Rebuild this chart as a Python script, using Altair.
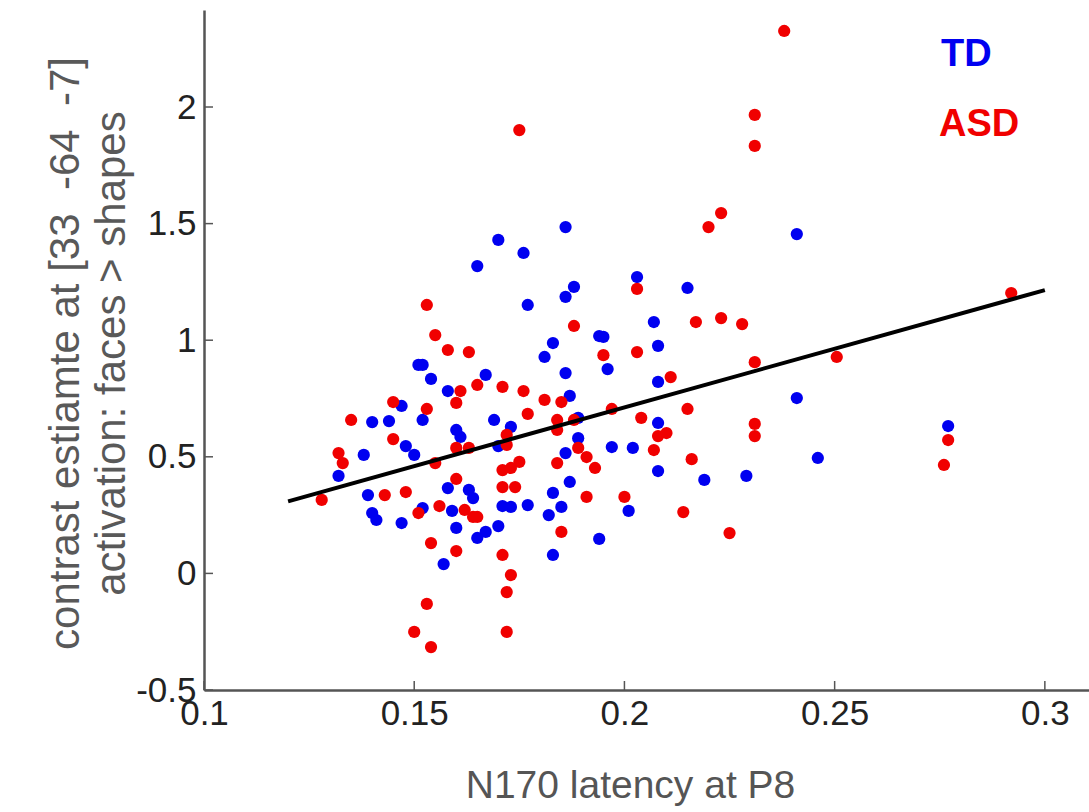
import altair as alt
import pandas as pd

# ---- data ----
td_x = [0.132, 0.138, 0.139, 0.140, 0.141, 0.140, 0.144, 0.147, 0.147, 0.148,
        0.150, 0.151, 0.152, 0.154, 0.158, 0.152, 0.152, 0.157, 0.158, 0.159,
        0.160, 0.161, 0.163, 0.164, 0.160, 0.165, 0.167, 0.167, 0.169, 0.170,
        0.170, 0.171, 0.173, 0.173, 0.165, 0.170, 0.176, 0.177, 0.186, 0.186,
        0.188, 0.194, 0.183, 0.181, 0.186, 0.187, 0.189, 0.189, 0.186, 0.187,
        0.183, 0.177, 0.185, 0.182, 0.183, 0.194, 0.196, 0.195, 0.197, 0.202,
        0.201, 0.203, 0.207, 0.208, 0.208, 0.208, 0.208, 0.215, 0.219, 0.229,
        0.241, 0.241, 0.246, 0.277]
td_y = [0.418, 0.508, 0.336, 0.259, 0.229, 0.649, 0.653, 0.718, 0.216, 0.546,
        0.508, 0.894, 0.894, 0.834, 0.782, 0.658, 0.280, 0.040, 0.366, 0.268,
        0.615, 0.585, 0.358, 0.323, 0.195, 0.152, 0.178, 0.851, 0.658, 0.203,
        0.546, 0.289, 0.285, 0.628, 1.318, 1.430, 1.374, 1.151, 1.485, 1.186,
        1.229, 1.018, 0.988, 0.928, 0.859, 0.761, 0.667, 0.580, 0.516, 0.392,
        0.345, 0.293, 0.285, 0.250, 0.079, 0.148, 0.876, 1.014, 0.542, 0.538,
        0.268, 1.271, 1.078, 0.976, 0.821, 0.645, 0.439, 1.224, 0.401, 0.418,
        1.455, 0.752, 0.495, 0.632]

asd_x = [0.128, 0.132, 0.133, 0.135, 0.143, 0.148, 0.145, 0.145, 0.151, 0.153,
         0.155, 0.158, 0.163, 0.153, 0.155, 0.156, 0.160, 0.160, 0.163, 0.161,
         0.165, 0.160, 0.162, 0.164, 0.165, 0.154, 0.160, 0.153, 0.150, 0.154,
         0.171, 0.172, 0.172, 0.171, 0.173, 0.171, 0.174, 0.171, 0.173, 0.172,
         0.172, 0.175, 0.176, 0.177, 0.181, 0.185, 0.184, 0.184, 0.188, 0.175,
         0.189, 0.191, 0.193, 0.184, 0.191, 0.185, 0.188, 0.195, 0.197, 0.203,
         0.203, 0.204, 0.200, 0.211, 0.208, 0.210, 0.207, 0.214, 0.215, 0.216,
         0.217, 0.220, 0.223, 0.223, 0.228, 0.225, 0.231, 0.231, 0.231, 0.231,
         0.231, 0.238, 0.2505, 0.292, 0.277, 0.276]
asd_y = [0.315, 0.516, 0.473, 0.658, 0.336, 0.349, 0.735, 0.576, 0.259, 1.151,
         1.022, 0.958, 0.949, 0.705, 0.473, 0.289, 0.405, 0.538, 0.538, 0.782,
         0.808, 0.731, 0.272, 0.242, 0.242, 0.130, 0.096, -0.131, -0.251, -0.316,
         0.800, 0.594, 0.551, 0.443, 0.452, 0.370, 0.370, 0.079, -0.007, -0.080,
         -0.251, 1.901, 0.782, 0.684, 0.744, 0.735, 0.658, 0.615, 0.658, 0.478,
         0.538, 0.499, 0.452, 0.473, 0.328, 0.178, 1.061, 0.936, 0.705, 1.220,
         0.949, 0.667, 0.328, 0.842, 0.589, 0.602, 0.529, 0.263, 0.705, 0.490,
         1.078, 1.485, 1.545, 1.095, 1.069, 0.173, 0.906, 0.641, 0.589, 1.966,
         1.833, 2.326, 0.928, 1.202, 0.572, 0.465]

fit_x = [0.12, 0.30]
fit_y = [0.309, 1.215]

x_ticks = [0.1, 0.15, 0.2, 0.25, 0.3]
y_ticks = [-0.5, 0, 0.5, 1, 1.5, 2]

groups = ["TD", "ASD"]
group_colors = ["#0000f0", "#f00000"]

x_title = "N170 latency at P8"
y_title = ["contrast estiamte at [33\u00a0\u00a0-64\u00a0\u00a0-7]", "activation: faces > shapes"]

# ---- styling ----
W, H = 885, 680
AX = "#555555"
FONT = "Liberation Sans"

xscale = alt.Scale(domain=[0.1, 0.3105], nice=False, zero=False)
yscale = alt.Scale(domain=[-0.5, 2.416], nice=False, zero=False)

LABEL_EXPR = "replace(format(datum.value, '~g'), '\u2212', '-')"

xaxis = alt.Axis(values=x_ticks, labelExpr=LABEL_EXPR, grid=False, ticks=False,
                 domainColor=AX, domainWidth=2.5, labelFont=FONT,
                 labelFontSize=35, labelColor="#222222", labelPadding=6,
                 labelFlush=False, labelOverlap=False,
                 title=x_title, titleFont=FONT, titleFontSize=39,
                 titleFontWeight="normal", titleColor="#555555",
                 titleX=426, titleY=95, titleBaseline="middle", titleAlign="center")
yaxis = alt.Axis(values=y_ticks, labelExpr=LABEL_EXPR, grid=False, ticks=False,
                 domainColor=AX, domainWidth=2.5, labelFont=FONT,
                 labelFontSize=35, labelColor="#222222", labelPadding=8,
                 labelFlush=False, labelOverlap=False, labelBaseline="middle",
                 title=y_title, titleFont=FONT, titleFontSize=42,
                 titleFontWeight="normal", titleColor="#595959",
                 titleAngle=270, titleX=-139, titleY=343, titleBaseline="middle",
                 titleAlign="center", titleLineHeight=46)

X = alt.X("x:Q", scale=xscale, axis=xaxis)
Y = alt.Y("y:Q", scale=yscale, axis=yaxis)

yt = alt.Chart(pd.DataFrame({"y": y_ticks})).mark_rule(color=AX, strokeWidth=1.5).encode(
    y=Y, x=alt.value(0), x2=alt.value(9))
xt = alt.Chart(pd.DataFrame({"x": x_ticks})).mark_rule(color=AX, strokeWidth=1.5).encode(
    x=X, y=alt.value(H), y2=alt.value(H - 9))

td = alt.Chart(pd.DataFrame({"x": td_x, "y": td_y})).mark_circle(
    size=150, color=group_colors[0], opacity=1).encode(x=X, y=Y)
asd = alt.Chart(pd.DataFrame({"x": asd_x, "y": asd_y})).mark_circle(
    size=150, color=group_colors[1], opacity=1).encode(x=X, y=Y)

fit = alt.Chart(pd.DataFrame({"x": fit_x, "y": fit_y})).mark_line(
    color="black", strokeWidth=4).encode(x=X, y=Y)

leg_td = alt.Chart(pd.DataFrame({"label": [groups[0]]})).mark_text(
    font=FONT, fontSize=38, fontWeight="bold", color=group_colors[0],
    align="left", baseline="alphabetic").encode(
    text="label:N", x=alt.value(737), y=alt.value(56))
leg_asd = alt.Chart(pd.DataFrame({"label": [groups[1]]})).mark_text(
    font=FONT, fontSize=38, fontWeight="bold", color=group_colors[1],
    align="left", baseline="alphabetic").encode(
    text="label:N", x=alt.value(735), y=alt.value(126))

chart = alt.layer(yt, xt, td, asd, fit, leg_td, leg_asd).properties(
    width=W, height=H,
    autosize=alt.AutoSizeParams(type="none"),
    padding={"left": 204, "top": 10, "right": 0, "bottom": 122},
    background="white",
).configure_view(stroke=None)

chart.save("out.html", embed_options={"renderer": "svg", "actions": False})
